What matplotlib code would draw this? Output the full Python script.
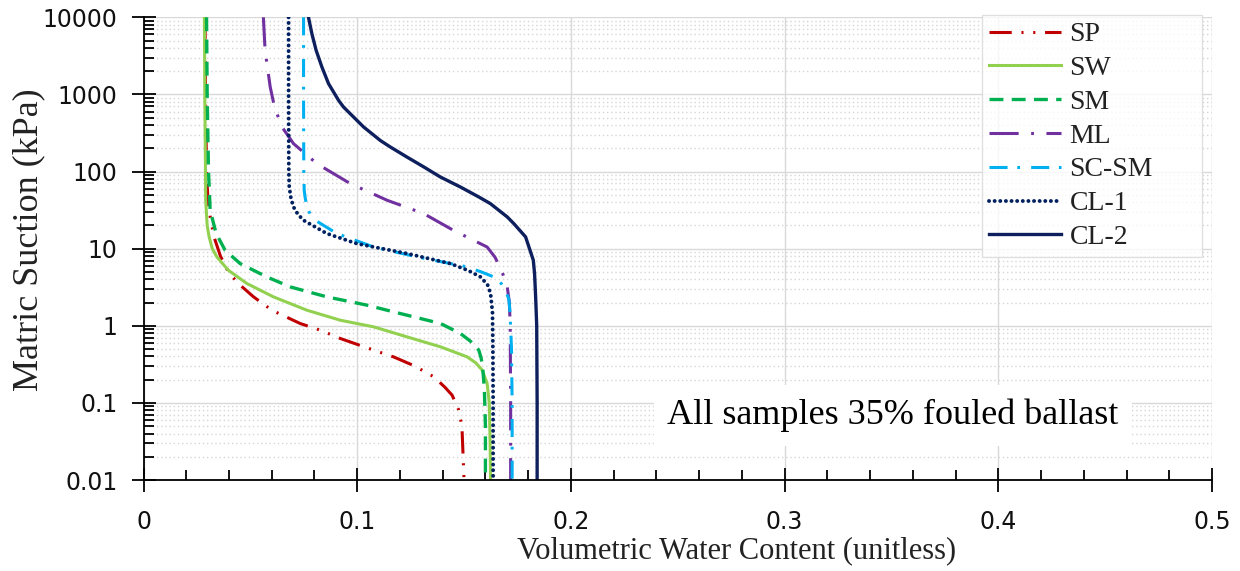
import numpy as np
import matplotlib
matplotlib.use('Agg')
import matplotlib.pyplot as plt
from matplotlib.ticker import FixedLocator, LogLocator, NullFormatter, MultipleLocator

plt.rcParams['lines.scale_dashes'] = False

# soil-water characteristic curves (suction kPa, vol. water content)
sp_s = [10000, 1000, 100, 40, 25.8, 14.2, 8, 4.99, 3.53, 2.37, 1.59, 1.07, 0.877, 0.684, 0.483, 0.395, 0.3, 0.218, 0.16, 0.126, 0.081, 0.05, 0.01]
sp_w = [0.0288, 0.029, 0.0295, 0.0302, 0.0312, 0.0330, 0.036, 0.0397, 0.0444, 0.0515, 0.0601, 0.0733, 0.0827, 0.0921, 0.1077, 0.117, 0.127, 0.1358, 0.141, 0.1444, 0.1475, 0.149, 0.150]

sw_s = [10000, 1000, 100, 42, 20, 14.2, 10, 7.82, 5.25, 3.53, 2.37, 1.59, 1.18, 0.968, 0.718, 0.533, 0.396, 0.33, 0.266, 0.179, 0.1, 0.03, 0.01]
sw_w = [0.0285, 0.0287, 0.029, 0.0291, 0.0298, 0.0307, 0.0322, 0.0343, 0.0397, 0.0484, 0.0608, 0.0765, 0.0921, 0.1077, 0.1233, 0.139, 0.1514, 0.1555, 0.1585, 0.1608, 0.1618, 0.1622, 0.1624]

sm_s = [10000, 1000, 104, 31.4, 15.7, 9.53, 6.41, 4.30, 3.19, 2.37, 1.85, 1.44, 1.07, 0.794, 0.63, 0.483, 0.38, 0.294, 0.15, 0.05, 0.01]
sm_w = [0.0295, 0.0298, 0.0304, 0.0312, 0.0340, 0.0382, 0.0452, 0.0577, 0.0687, 0.0858, 0.1046, 0.1202, 0.139, 0.1483, 0.153, 0.1569, 0.158, 0.1587, 0.1595, 0.160, 0.160]

ml_s = [10000, 3715, 1245, 686, 378, 230, 126, 69.7, 42.4, 28.5, 17.3, 10.5, 7.74, 5.57, 3.53, 2.0, 1.0, 0.1, 0.01]
ml_w = [0.0561, 0.0569, 0.0593, 0.0613, 0.0648, 0.0702, 0.0812, 0.0968, 0.114, 0.1311, 0.145, 0.1608, 0.1645, 0.167, 0.170, 0.1712, 0.1716, 0.1718, 0.1718]

scsm_s = [10000, 1000, 100, 57, 45, 34.7, 28, 23.3, 15.7, 10.5, 7.82, 5.80, 5.0, 4.30, 3.5, 2.89, 2.2, 1.5, 0.5, 0.1, 0.01]
scsm_w = [0.0749, 0.0749, 0.0750, 0.0752, 0.0757, 0.0765, 0.078, 0.0804, 0.0905, 0.1077, 0.128, 0.1514, 0.158, 0.1639, 0.1675, 0.1694, 0.171, 0.1715, 0.1722, 0.1725, 0.1725]

cl1_s = [10000, 1000, 100, 63, 45, 34.7, 28, 23.3, 15.7, 11.6, 8.65, 6.41, 5.2, 4.30, 3.4, 2.62, 1.5, 0.5, 0.1, 0.01]
cl1_w = [0.0679, 0.0679, 0.0680, 0.0682, 0.069, 0.0702, 0.0722, 0.0749, 0.0858, 0.0999, 0.1233, 0.1436, 0.152, 0.1577, 0.161, 0.1624, 0.1633, 0.1635, 0.1636, 0.1636]

cl2_s = [10000, 6110, 3715, 2260, 1377, 836, 686, 378, 253, 208, 154, 115, 85, 63, 46.8, 38.4, 25.8, 21.1, 14.2, 7.1, 4.75, 2.37, 1, 0.1, 0.01]
cl2_w = [0.0772, 0.0788, 0.0808, 0.0835, 0.0866, 0.0913, 0.0936, 0.103, 0.1108, 0.1155, 0.1233, 0.1311, 0.1389, 0.1483, 0.1569, 0.1623, 0.1702, 0.1733, 0.1788, 0.1824, 0.183, 0.1835, 0.1840, 0.1842, 0.1842]

y_ticks = [0.01, 0.1, 1, 10, 100, 1000, 10000]
y_labels = ['0.01', '0.1', '1', '10', '100', '1000', '10000']
x_ticks = [0, 0.1, 0.2, 0.3, 0.4, 0.5]
x_labels = ['0', '0.1', '0.2', '0.3', '0.4', '0.5']

serif = 'Liberation Serif'
sans = 'DejaVu Sans'

fig = plt.figure(figsize=(12.4, 5.71), dpi=100)
ax = fig.add_axes([143.5/1240, 1 - 480/571, (1212 - 143.5)/1240, (480 - 17.3)/571])

# curves
ax.plot(sp_w, sp_s, color='#C00000', lw=2.2, dashes=(16, 7, 1.5, 7, 1.5, 7), label='SP')
ax.plot(sw_w, sw_s, color='#92D050', lw=2.2, label='SW')
ax.plot(sm_w, sm_s, color='#00B050', lw=2.4, dashes=(10, 6), label='SM')
ax.plot(ml_w, ml_s, color='#7030A0', lw=2.2, dashes=(21, 9, 2, 9), label='ML')
ax.plot(scsm_w, scsm_s, color='#00B0F0', lw=2.2, dashes=(13, 7, 2, 8), label='SC-SM')
ax.plot(cl1_w, cl1_s, color='#002060', lw=2.8, dashes=(0.05, 4.0), dash_capstyle='round', label='CL-1')
ax.plot(cl2_w, cl2_s, color='#0D1F5C', lw=2.4, label='CL-2')

ax.set_yscale('log')
ax.set_ylim(0.01, 10000)
ax.set_xlim(0, 0.5)

ax.yaxis.set_major_locator(FixedLocator(y_ticks))
ax.set_yticklabels(y_labels)
ax.yaxis.set_minor_locator(LogLocator(base=10, subs=np.arange(2, 10), numticks=20))
ax.yaxis.set_minor_formatter(NullFormatter())
ax.set_xticks(x_ticks)
ax.set_xticklabels(x_labels)
ax.xaxis.set_minor_locator(MultipleLocator(0.02))

for lab in ax.get_xticklabels() + ax.get_yticklabels():
    lab.set_fontfamily(sans)
    lab.set_fontsize(17)
    lab.set_color('#111111')

ax.tick_params(axis='both', which='major', direction='inout', length=17, width=1.3, color='black')
ax.tick_params(axis='both', which='minor', direction='in', length=7, width=1.3, color='black')
ax.tick_params(axis='x', which='major', pad=13)
ax.tick_params(axis='y', which='major', pad=10)

ax.grid(True, which='major', color='#d9d9d9', lw=1.0)
ax.grid(True, which='minor', axis='y', color='#d6d6d6', lw=1.0, linestyle=(0, (1, 2)))
ax.set_axisbelow(True)

for side in ['top', 'right']:
    ax.spines[side].set_visible(False)
for side in ['left', 'bottom']:
    ax.spines[side].set_linewidth(1.3)
    ax.spines[side].set_color('black')

ax.set_xlabel('Volumetric Water Content (unitless)', fontfamily=serif, fontsize=22, color='#222222')
ax.xaxis.set_label_coords((737 - 143.5) / (1212 - 143.5), -(536 - 480) / (480 - 17.3))
ax.set_ylabel('Matric Suction (kPa)', fontfamily=serif, fontsize=26, color='#222222')
ax.yaxis.set_label_coords(-(143.5 - 45) / (1212 - 143.5), (480 - 240) / (480 - 17.3))

ax.text(0.3507, 0.0695, 'All samples 35% fouled ballast', fontfamily=serif, fontsize=26,
        ha='center', va='center', color='black',
        bbox=dict(facecolor='white', edgecolor='none', pad=10))

leg = ax.legend(loc='upper left', bbox_to_anchor=(982/1240, 1 - 250/571, 220/1240, 235/571),
                bbox_transform=fig.transFigure, mode='expand',
                prop={'family': serif, 'size': 20}, frameon=True, fancybox=False,
                borderaxespad=0, labelspacing=0.3, handlelength=2.6, handletextpad=0.3,
                borderpad=0.25)
leg.get_frame().set_edgecolor('#d9d9d9')
leg.get_frame().set_linewidth(1.0)
for t in leg.get_texts():
    t.set_color('#222222')

fig.savefig('out.png', dpi=100, facecolor='white')
